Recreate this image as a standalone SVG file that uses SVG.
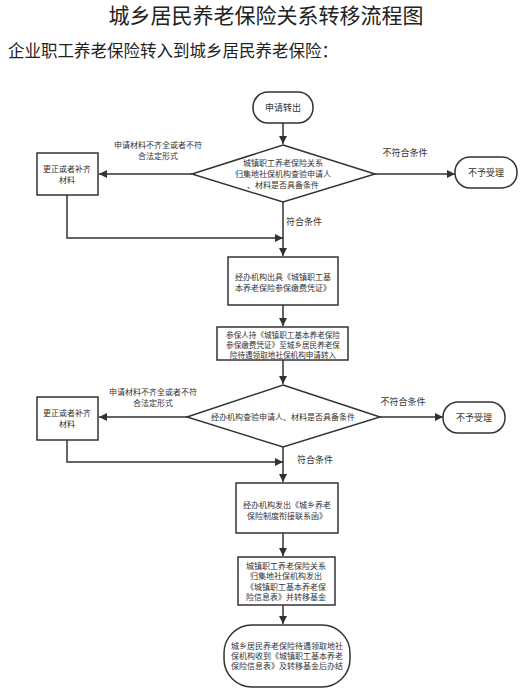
<svg xmlns="http://www.w3.org/2000/svg" width="530" height="690" viewBox="0 0 530 690">
<style>
text{font-family:"Noto Sans CJK SC","Noto Sans",sans-serif;fill:#333}
.t{font-size:9px;text-anchor:middle}
.s{font-size:8px;text-anchor:middle}
.x{font-size:7.6px;text-anchor:middle}
.l{font-size:9px}
.n{fill:#fff;stroke:#333;stroke-width:1.5}
.c{fill:none;stroke:#333;stroke-width:1.5}
</style>
<defs>
<marker id="a" viewBox="0 0 10 10" refX="10" refY="5" markerWidth="8" markerHeight="8" markerUnits="userSpaceOnUse" orient="auto">
<path d="M0,0L10,5L0,10z" fill="#333"/>
</marker>
</defs>
<rect width="530" height="690" fill="#fff"/>
<text x="266" y="23" style="font-size:21px;text-anchor:middle;fill:#222">城乡居民养老保险关系转移流程图</text>
<text x="8" y="57" style="font-size:16.5px;fill:#222">企业职工养老保险转入到城乡居民养老保险：</text>

<g id="connectors">
<path class="c" d="M283,123V144" marker-end="url(#a)"/>
<path class="c" d="M192,174H99" marker-end="url(#a)"/>
<path class="c" d="M375,174H455" marker-end="url(#a)"/>
<path class="c" d="M67,195V238H283" marker-end="url(#a)"/>
<path class="c" d="M283,202V256" marker-end="url(#a)"/>
<path class="c" d="M283,305V326" marker-end="url(#a)"/>
<path class="c" d="M283,360V384" marker-end="url(#a)"/>
<path class="c" d="M187,417H99" marker-end="url(#a)"/>
<path class="c" d="M380,417H443" marker-end="url(#a)"/>
<path class="c" d="M67,440V462H283" marker-end="url(#a)"/>
<path class="c" d="M283,447V482" marker-end="url(#a)"/>
<path class="c" d="M283,533V556" marker-end="url(#a)"/>
<path class="c" d="M283,605V624" marker-end="url(#a)"/>
<text class="s" x="158" y="148">申请材料不齐全或者不符</text>
<text class="s" x="158" y="159">合法定形式</text>
<text class="t" x="405" y="156">不符合条件</text>
<text class="l" x="286" y="225">符合条件</text>
<text class="s" x="153" y="395">申请材料不齐全或者不符</text>
<text class="s" x="153" y="406">合法定形式</text>
<text class="t" x="403" y="405">不符合条件</text>
<text class="l" x="297" y="463">符合条件</text>
</g>

<g id="start">
<rect class="n" x="253" y="92" width="60" height="31" rx="15"/>
<text class="t" x="283" y="111">申请转出</text>
</g>
<g id="check1">
<path class="n" d="M283,145L375,174L283,202L192,174z"/>
<text class="s" x="283" y="166">城镇职工养老保险关系</text>
<text class="s" x="283" y="177">归集地社保机构查验申请人</text>
<text class="s" x="283" y="188">、材料是否具备条件</text>
</g>
<g id="fix1">
<rect class="n" x="37" y="153" width="61" height="42"/>
<text class="s" x="67" y="172">更正或者补齐</text>
<text class="s" x="67" y="183">材料</text>
</g>
<g id="reject1">
<rect class="n" x="455" y="157" width="62" height="31" rx="15"/>
<text class="t" x="486" y="176">不予受理</text>
</g>
<g id="issue">
<rect class="n" x="228" y="257" width="110" height="48"/>
<text class="s" x="283" y="280">经办机构出具《城镇职工基</text>
<text class="s" x="283" y="291">本养老保险参保缴费凭证》</text>
</g>
<g id="apply">
<rect class="n" x="217" y="327" width="131" height="33"/>
<text class="x" x="283" y="338">参保人持《城镇职工基本养老保险</text>
<text class="x" x="283" y="348">参保缴费凭证》至城乡居民养老保</text>
<text class="x" x="283" y="358">险待遇领取地社保机构申请转入</text>
</g>
<g id="check2">
<path class="n" d="M283,385L380,417L283,447L187,417z"/>
<text class="s" x="283" y="420">经办机构查验申请人、材料是否具备条件</text>
</g>
<g id="fix2">
<rect class="n" x="37" y="397" width="61" height="43"/>
<text class="s" x="67" y="416">更正或者补齐</text>
<text class="s" x="67" y="427">材料</text>
</g>
<g id="reject2">
<rect class="n" x="443" y="402" width="62" height="31" rx="15"/>
<text class="t" x="474" y="421">不予受理</text>
</g>
<g id="letter">
<rect class="n" x="236" y="483" width="102" height="50"/>
<text class="s" x="287" y="508">经办机构发出《城乡养老</text>
<text class="s" x="287" y="519">保险制度衔接联系函》</text>
</g>
<g id="transfer">
<rect class="n" x="238" y="557" width="97" height="48"/>
<text class="s" x="286" y="569">城镇职工养老保险关系</text>
<text class="s" x="286" y="579">归集地社保机构发出</text>
<text class="s" x="286" y="590">《城镇职工基本养老保</text>
<text class="s" x="286" y="600">险信息表》并转移基金</text>
</g>
<g id="end">
<rect class="n" x="224" y="625" width="126" height="62" rx="28"/>
<text class="s" x="287" y="649">城乡居民养老保险待遇领取地社</text>
<text class="s" x="287" y="659">保机构收到《城镇职工基本养老</text>
<text class="s" x="287" y="669">保险信息表》及转移基金后办结</text>
</g>
</svg>
